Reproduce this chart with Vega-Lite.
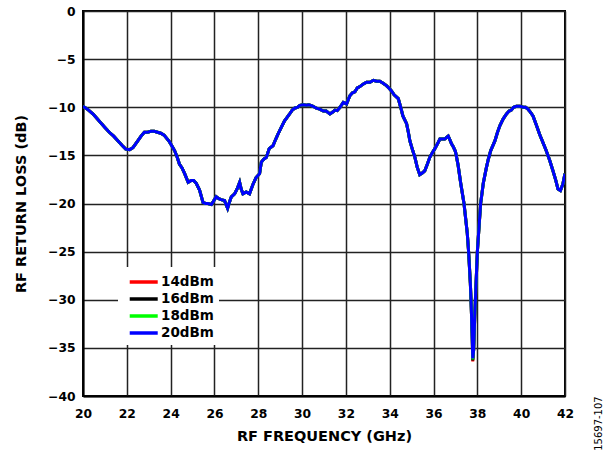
{
  "$schema": "https://vega.github.io/schema/vega-lite/v6.json",
  "width": 482,
  "height": 385,
  "autosize": {"type": "none"},
  "padding": {"left": 83, "top": 11, "right": 43, "bottom": 54},
  "background": "white",
  "config": {
    "font": "DejaVu Sans",
    "view": {"stroke": "black", "strokeWidth": 2},
    "axis": {
      "labelFont": "DejaVu Sans",
      "labelFontSize": 12.3,
      "labelFontWeight": "bold",
      "labelColor": "black",
      "titleFont": "DejaVu Sans",
      "titleFontSize": 14.5,
      "titleFontWeight": "bold",
      "titleColor": "black",
      "ticks": false,
      "domainColor": "black",
      "domainWidth": 2,
      "gridColor": "#222222",
      "gridWidth": 1.5,
      "gridOpacity": 1
    }
  },
  "title": {
    "text": "15697-107",
    "orient": "right",
    "anchor": "end",
    "frame": "bounds",
    "angle": -90,
    "align": "left",
    "dx": -8,
    "fontSize": 10,
    "fontWeight": "normal",
    "font": "DejaVu Sans",
    "color": "black",
    "offset": 10
  },
  "data": {
    "values": [
      {"f": 20.0, "14dBm": -9.9, "16dBm": -9.9, "18dBm": -9.9, "20dBm": -9.9},
      {"f": 20.2, "14dBm": -10.2, "16dBm": -10.2, "18dBm": -10.2, "20dBm": -10.2},
      {"f": 20.46, "14dBm": -10.7, "16dBm": -10.7, "18dBm": -10.7, "20dBm": -10.7},
      {"f": 20.65, "14dBm": -11.2, "16dBm": -11.2, "18dBm": -11.2, "20dBm": -11.2},
      {"f": 20.84, "14dBm": -11.7, "16dBm": -11.7, "18dBm": -11.7, "20dBm": -11.7},
      {"f": 21.0, "14dBm": -12.1, "16dBm": -12.1, "18dBm": -12.1, "20dBm": -12.1},
      {"f": 21.2, "14dBm": -12.6, "16dBm": -12.6, "18dBm": -12.6, "20dBm": -12.6},
      {"f": 21.4, "14dBm": -13.0, "16dBm": -13.0, "18dBm": -13.0, "20dBm": -13.0},
      {"f": 21.6, "14dBm": -13.5, "16dBm": -13.5, "18dBm": -13.5, "20dBm": -13.5},
      {"f": 21.8, "14dBm": -14.0, "16dBm": -14.0, "18dBm": -14.0, "20dBm": -14.0},
      {"f": 21.95, "14dBm": -14.35, "16dBm": -14.35, "18dBm": -14.35, "20dBm": -14.35},
      {"f": 22.13, "14dBm": -14.4, "16dBm": -14.4, "18dBm": -14.4, "20dBm": -14.4},
      {"f": 22.28, "14dBm": -14.2, "16dBm": -14.2, "18dBm": -14.2, "20dBm": -14.2},
      {"f": 22.5, "14dBm": -13.5, "16dBm": -13.5, "18dBm": -13.5, "20dBm": -13.5},
      {"f": 22.65, "14dBm": -13.0, "16dBm": -13.0, "18dBm": -13.0, "20dBm": -13.0},
      {"f": 22.8, "14dBm": -12.6, "16dBm": -12.6, "18dBm": -12.6, "20dBm": -12.6},
      {"f": 22.95, "14dBm": -12.6, "16dBm": -12.6, "18dBm": -12.6, "20dBm": -12.6},
      {"f": 23.1, "14dBm": -12.5, "16dBm": -12.5, "18dBm": -12.5, "20dBm": -12.5},
      {"f": 23.25, "14dBm": -12.5, "16dBm": -12.5, "18dBm": -12.5, "20dBm": -12.5},
      {"f": 23.4, "14dBm": -12.6, "16dBm": -12.6, "18dBm": -12.6, "20dBm": -12.6},
      {"f": 23.55, "14dBm": -12.7, "16dBm": -12.7, "18dBm": -12.7, "20dBm": -12.7},
      {"f": 23.7, "14dBm": -12.9, "16dBm": -12.9, "18dBm": -12.9, "20dBm": -12.9},
      {"f": 23.95, "14dBm": -13.6, "16dBm": -13.6, "18dBm": -13.6, "20dBm": -13.6},
      {"f": 24.18, "14dBm": -14.5, "16dBm": -14.5, "18dBm": -14.5, "20dBm": -14.5},
      {"f": 24.3, "14dBm": -15.2, "16dBm": -15.2, "18dBm": -15.2, "20dBm": -15.2},
      {"f": 24.4, "14dBm": -15.9, "16dBm": -15.9, "18dBm": -15.9, "20dBm": -15.9},
      {"f": 24.52, "14dBm": -16.3, "16dBm": -16.3, "18dBm": -16.3, "20dBm": -16.3},
      {"f": 24.64, "14dBm": -16.9, "16dBm": -16.9, "18dBm": -16.9, "20dBm": -16.9},
      {"f": 24.8, "14dBm": -17.8, "16dBm": -17.8, "18dBm": -17.8, "20dBm": -17.8},
      {"f": 24.94, "14dBm": -17.6, "16dBm": -17.6, "18dBm": -17.6, "20dBm": -17.6},
      {"f": 25.05, "14dBm": -17.6, "16dBm": -17.6, "18dBm": -17.6, "20dBm": -17.6},
      {"f": 25.17, "14dBm": -17.9, "16dBm": -17.9, "18dBm": -17.9, "20dBm": -17.9},
      {"f": 25.32, "14dBm": -18.6, "16dBm": -18.6, "18dBm": -18.6, "20dBm": -18.6},
      {"f": 25.48, "14dBm": -19.9, "16dBm": -19.9, "18dBm": -19.9, "20dBm": -19.9},
      {"f": 25.6, "14dBm": -20.0, "16dBm": -20.0, "18dBm": -20.0, "20dBm": -20.0},
      {"f": 25.7, "14dBm": -20.0, "16dBm": -20.0, "18dBm": -20.0, "20dBm": -20.0},
      {"f": 25.86, "14dBm": -20.1, "16dBm": -20.1, "18dBm": -20.1, "20dBm": -20.1},
      {"f": 26.0, "14dBm": -19.6, "16dBm": -19.6, "18dBm": -19.6, "20dBm": -19.6},
      {"f": 26.08, "14dBm": -19.3, "16dBm": -19.3, "18dBm": -19.3, "20dBm": -19.3},
      {"f": 26.2, "14dBm": -19.5, "16dBm": -19.5, "18dBm": -19.5, "20dBm": -19.5},
      {"f": 26.3, "14dBm": -19.6, "16dBm": -19.6, "18dBm": -19.6, "20dBm": -19.6},
      {"f": 26.46, "14dBm": -19.7, "16dBm": -19.7, "18dBm": -19.7, "20dBm": -19.7},
      {"f": 26.6, "14dBm": -20.5, "16dBm": -20.5, "18dBm": -20.5, "20dBm": -20.5},
      {"f": 26.68, "14dBm": -19.9, "16dBm": -19.9, "18dBm": -19.9, "20dBm": -19.9},
      {"f": 26.77, "14dBm": -19.3, "16dBm": -19.3, "18dBm": -19.3, "20dBm": -19.3},
      {"f": 26.92, "14dBm": -19.0, "16dBm": -19.0, "18dBm": -19.0, "20dBm": -19.0},
      {"f": 27.05, "14dBm": -18.4, "16dBm": -18.4, "18dBm": -18.4, "20dBm": -18.4},
      {"f": 27.15, "14dBm": -17.8, "16dBm": -17.8, "18dBm": -17.8, "20dBm": -17.8},
      {"f": 27.22, "14dBm": -18.5, "16dBm": -18.5, "18dBm": -18.5, "20dBm": -18.5},
      {"f": 27.3, "14dBm": -19.0, "16dBm": -19.0, "18dBm": -19.0, "20dBm": -19.0},
      {"f": 27.45, "14dBm": -18.8, "16dBm": -18.8, "18dBm": -18.8, "20dBm": -18.8},
      {"f": 27.6, "14dBm": -19.0, "16dBm": -19.0, "18dBm": -19.0, "20dBm": -19.0},
      {"f": 27.76, "14dBm": -18.0, "16dBm": -18.0, "18dBm": -18.0, "20dBm": -18.0},
      {"f": 27.9, "14dBm": -17.3, "16dBm": -17.3, "18dBm": -17.3, "20dBm": -17.3},
      {"f": 28.06, "14dBm": -16.9, "16dBm": -16.9, "18dBm": -16.9, "20dBm": -16.9},
      {"f": 28.14, "14dBm": -15.7, "16dBm": -15.7, "18dBm": -15.7, "20dBm": -15.7},
      {"f": 28.25, "14dBm": -15.4, "16dBm": -15.4, "18dBm": -15.4, "20dBm": -15.4},
      {"f": 28.37, "14dBm": -15.2, "16dBm": -15.2, "18dBm": -15.2, "20dBm": -15.2},
      {"f": 28.5, "14dBm": -14.3, "16dBm": -14.3, "18dBm": -14.3, "20dBm": -14.3},
      {"f": 28.67, "14dBm": -14.0, "16dBm": -14.0, "18dBm": -14.0, "20dBm": -14.0},
      {"f": 28.8, "14dBm": -13.3, "16dBm": -13.3, "18dBm": -13.3, "20dBm": -13.3},
      {"f": 28.9, "14dBm": -12.8, "16dBm": -12.8, "18dBm": -12.8, "20dBm": -12.8},
      {"f": 29.05, "14dBm": -12.1, "16dBm": -12.1, "18dBm": -12.1, "20dBm": -12.1},
      {"f": 29.2, "14dBm": -11.4, "16dBm": -11.4, "18dBm": -11.4, "20dBm": -11.4},
      {"f": 29.3, "14dBm": -11.1, "16dBm": -11.1, "18dBm": -11.1, "20dBm": -11.1},
      {"f": 29.43, "14dBm": -10.7, "16dBm": -10.7, "18dBm": -10.7, "20dBm": -10.7},
      {"f": 29.55, "14dBm": -10.3, "16dBm": -10.3, "18dBm": -10.3, "20dBm": -10.3},
      {"f": 29.66, "14dBm": -10.1, "16dBm": -10.1, "18dBm": -10.1, "20dBm": -10.1},
      {"f": 29.8, "14dBm": -10.0, "16dBm": -10.0, "18dBm": -10.0, "20dBm": -10.0},
      {"f": 29.9, "14dBm": -9.8, "16dBm": -9.8, "18dBm": -9.8, "20dBm": -9.8},
      {"f": 30.05, "14dBm": -9.75, "16dBm": -9.75, "18dBm": -9.75, "20dBm": -9.75},
      {"f": 30.2, "14dBm": -9.8, "16dBm": -9.8, "18dBm": -9.8, "20dBm": -9.8},
      {"f": 30.3, "14dBm": -9.75, "16dBm": -9.75, "18dBm": -9.75, "20dBm": -9.75},
      {"f": 30.4, "14dBm": -9.8, "16dBm": -9.8, "18dBm": -9.8, "20dBm": -9.8},
      {"f": 30.5, "14dBm": -9.9, "16dBm": -9.9, "18dBm": -9.9, "20dBm": -9.9},
      {"f": 30.65, "14dBm": -10.1, "16dBm": -10.1, "18dBm": -10.1, "20dBm": -10.1},
      {"f": 30.8, "14dBm": -10.2, "16dBm": -10.2, "18dBm": -10.2, "20dBm": -10.2},
      {"f": 30.97, "14dBm": -10.4, "16dBm": -10.4, "18dBm": -10.4, "20dBm": -10.4},
      {"f": 31.1, "14dBm": -10.4, "16dBm": -10.4, "18dBm": -10.4, "20dBm": -10.4},
      {"f": 31.27, "14dBm": -10.7, "16dBm": -10.7, "18dBm": -10.7, "20dBm": -10.7},
      {"f": 31.4, "14dBm": -10.5, "16dBm": -10.5, "18dBm": -10.5, "20dBm": -10.5},
      {"f": 31.5, "14dBm": -10.3, "16dBm": -10.3, "18dBm": -10.3, "20dBm": -10.3},
      {"f": 31.6, "14dBm": -10.35, "16dBm": -10.35, "18dBm": -10.35, "20dBm": -10.35},
      {"f": 31.73, "14dBm": -10.0, "16dBm": -10.0, "18dBm": -10.0, "20dBm": -10.0},
      {"f": 31.88, "14dBm": -9.5, "16dBm": -9.5, "18dBm": -9.5, "20dBm": -9.5},
      {"f": 32.03, "14dBm": -9.65, "16dBm": -9.65, "18dBm": -9.65, "20dBm": -9.65},
      {"f": 32.18, "14dBm": -8.8, "16dBm": -8.8, "18dBm": -8.8, "20dBm": -8.8},
      {"f": 32.3, "14dBm": -8.5, "16dBm": -8.5, "18dBm": -8.5, "20dBm": -8.5},
      {"f": 32.41, "14dBm": -8.4, "16dBm": -8.4, "18dBm": -8.4, "20dBm": -8.4},
      {"f": 32.52, "14dBm": -8.0, "16dBm": -8.0, "18dBm": -8.0, "20dBm": -8.0},
      {"f": 32.64, "14dBm": -7.85, "16dBm": -7.85, "18dBm": -7.85, "20dBm": -7.85},
      {"f": 32.78, "14dBm": -7.6, "16dBm": -7.6, "18dBm": -7.6, "20dBm": -7.6},
      {"f": 32.94, "14dBm": -7.4, "16dBm": -7.4, "18dBm": -7.4, "20dBm": -7.4},
      {"f": 33.1, "14dBm": -7.4, "16dBm": -7.4, "18dBm": -7.4, "20dBm": -7.4},
      {"f": 33.25, "14dBm": -7.2, "16dBm": -7.2, "18dBm": -7.2, "20dBm": -7.2},
      {"f": 33.4, "14dBm": -7.3, "16dBm": -7.3, "18dBm": -7.3, "20dBm": -7.3},
      {"f": 33.55, "14dBm": -7.3, "16dBm": -7.3, "18dBm": -7.3, "20dBm": -7.3},
      {"f": 33.7, "14dBm": -7.5, "16dBm": -7.5, "18dBm": -7.5, "20dBm": -7.5},
      {"f": 33.85, "14dBm": -7.75, "16dBm": -7.75, "18dBm": -7.75, "20dBm": -7.75},
      {"f": 33.96, "14dBm": -8.0, "16dBm": -8.0, "18dBm": -8.0, "20dBm": -8.0},
      {"f": 34.08, "14dBm": -8.3, "16dBm": -8.3, "18dBm": -8.3, "20dBm": -8.3},
      {"f": 34.2, "14dBm": -8.7, "16dBm": -8.7, "18dBm": -8.7, "20dBm": -8.7},
      {"f": 34.39, "14dBm": -9.1, "16dBm": -9.1, "18dBm": -9.1, "20dBm": -9.1},
      {"f": 34.5, "14dBm": -10.0, "16dBm": -10.0, "18dBm": -10.0, "20dBm": -10.0},
      {"f": 34.6, "14dBm": -10.9, "16dBm": -10.9, "18dBm": -10.9, "20dBm": -10.9},
      {"f": 34.77, "14dBm": -11.7, "16dBm": -11.7, "18dBm": -11.7, "20dBm": -11.7},
      {"f": 34.85, "14dBm": -12.6, "16dBm": -12.6, "18dBm": -12.6, "20dBm": -12.6},
      {"f": 34.92, "14dBm": -13.5, "16dBm": -13.5, "18dBm": -13.5, "20dBm": -13.5},
      {"f": 35.05, "14dBm": -14.5, "16dBm": -14.5, "18dBm": -14.5, "20dBm": -14.5},
      {"f": 35.15, "14dBm": -15.2, "16dBm": -15.2, "18dBm": -15.2, "20dBm": -15.2},
      {"f": 35.25, "14dBm": -16.2, "16dBm": -16.2, "18dBm": -16.2, "20dBm": -16.2},
      {"f": 35.37, "14dBm": -17.0, "16dBm": -17.0, "18dBm": -17.0, "20dBm": -17.0},
      {"f": 35.5, "14dBm": -16.8, "16dBm": -16.8, "18dBm": -16.8, "20dBm": -16.8},
      {"f": 35.6, "14dBm": -16.6, "16dBm": -16.6, "18dBm": -16.6, "20dBm": -16.6},
      {"f": 35.72, "14dBm": -15.9, "16dBm": -15.9, "18dBm": -15.9, "20dBm": -15.9},
      {"f": 35.83, "14dBm": -15.2, "16dBm": -15.2, "18dBm": -15.2, "20dBm": -15.2},
      {"f": 35.95, "14dBm": -14.7, "16dBm": -14.7, "18dBm": -14.7, "20dBm": -14.7},
      {"f": 36.06, "14dBm": -14.3, "16dBm": -14.3, "18dBm": -14.3, "20dBm": -14.3},
      {"f": 36.18, "14dBm": -13.8, "16dBm": -13.8, "18dBm": -13.8, "20dBm": -13.8},
      {"f": 36.29, "14dBm": -13.3, "16dBm": -13.3, "18dBm": -13.3, "20dBm": -13.3},
      {"f": 36.4, "14dBm": -13.3, "16dBm": -13.3, "18dBm": -13.3, "20dBm": -13.3},
      {"f": 36.51, "14dBm": -13.3, "16dBm": -13.3, "18dBm": -13.3, "20dBm": -13.3},
      {"f": 36.67, "14dBm": -13.0, "16dBm": -13.0, "18dBm": -13.0, "20dBm": -13.0},
      {"f": 36.75, "14dBm": -13.4, "16dBm": -13.4, "18dBm": -13.4, "20dBm": -13.4},
      {"f": 36.82, "14dBm": -13.8, "16dBm": -13.8, "18dBm": -13.8, "20dBm": -13.8},
      {"f": 36.9, "14dBm": -14.1, "16dBm": -14.1, "18dBm": -14.1, "20dBm": -14.1},
      {"f": 37.0, "14dBm": -14.6, "16dBm": -14.6, "18dBm": -14.6, "20dBm": -14.6},
      {"f": 37.12, "14dBm": -16.0, "16dBm": -16.0, "18dBm": -16.0, "20dBm": -16.0},
      {"f": 37.24, "14dBm": -17.9, "16dBm": -17.9, "18dBm": -17.9, "20dBm": -17.9},
      {"f": 37.39, "14dBm": -20.0, "16dBm": -20.0, "18dBm": -20.0, "20dBm": -20.0},
      {"f": 37.54, "14dBm": -23.1, "16dBm": -23.1, "18dBm": -23.1, "20dBm": -23.1},
      {"f": 37.6, "14dBm": -25.0, "16dBm": -25.0, "18dBm": -25.0, "20dBm": -25.0},
      {"f": 37.68, "14dBm": -28.3, "16dBm": -28.3, "18dBm": -28.3, "20dBm": -28.3},
      {"f": 37.71, "14dBm": -30.0, "16dBm": -30.0, "18dBm": -30.0, "20dBm": -30.0},
      {"f": 37.76, "14dBm": -33.5, "16dBm": -33.5, "18dBm": -33.5, "20dBm": -33.5},
      {"f": 37.79, "14dBm": -36.4, "16dBm": -36.3, "18dBm": -36.2, "20dBm": -36.1},
      {"f": 37.83, "14dBm": -35.2, "16dBm": -35.2, "18dBm": -35.2, "20dBm": -35.2},
      {"f": 37.88, "14dBm": -31.8, "16dBm": -31.8, "18dBm": -31.8, "20dBm": -31.8},
      {"f": 37.91, "14dBm": -30.0, "16dBm": -30.0, "18dBm": -30.0, "20dBm": -30.0},
      {"f": 38.0, "14dBm": -25.0, "16dBm": -25.0, "18dBm": -25.0, "20dBm": -25.0},
      {"f": 38.08, "14dBm": -22.3, "16dBm": -22.3, "18dBm": -22.3, "20dBm": -22.3},
      {"f": 38.15, "14dBm": -20.0, "16dBm": -20.0, "18dBm": -20.0, "20dBm": -20.0},
      {"f": 38.27, "14dBm": -17.9, "16dBm": -17.9, "18dBm": -17.9, "20dBm": -17.9},
      {"f": 38.4, "14dBm": -16.4, "16dBm": -16.4, "18dBm": -16.4, "20dBm": -16.4},
      {"f": 38.5, "14dBm": -15.4, "16dBm": -15.4, "18dBm": -15.4, "20dBm": -15.4},
      {"f": 38.61, "14dBm": -14.5, "16dBm": -14.5, "18dBm": -14.5, "20dBm": -14.5},
      {"f": 38.8, "14dBm": -13.5, "16dBm": -13.5, "18dBm": -13.5, "20dBm": -13.5},
      {"f": 38.92, "14dBm": -12.6, "16dBm": -12.6, "18dBm": -12.6, "20dBm": -12.6},
      {"f": 39.03, "14dBm": -11.9, "16dBm": -11.9, "18dBm": -11.9, "20dBm": -11.9},
      {"f": 39.18, "14dBm": -11.2, "16dBm": -11.2, "18dBm": -11.2, "20dBm": -11.2},
      {"f": 39.33, "14dBm": -10.7, "16dBm": -10.7, "18dBm": -10.7, "20dBm": -10.7},
      {"f": 39.45, "14dBm": -10.4, "16dBm": -10.4, "18dBm": -10.4, "20dBm": -10.4},
      {"f": 39.55, "14dBm": -10.3, "16dBm": -10.3, "18dBm": -10.3, "20dBm": -10.3},
      {"f": 39.65, "14dBm": -10.0, "16dBm": -10.0, "18dBm": -10.0, "20dBm": -10.0},
      {"f": 39.78, "14dBm": -9.9, "16dBm": -9.9, "18dBm": -9.9, "20dBm": -9.9},
      {"f": 39.95, "14dBm": -9.9, "16dBm": -9.9, "18dBm": -9.9, "20dBm": -9.9},
      {"f": 40.09, "14dBm": -10.0, "16dBm": -10.0, "18dBm": -10.0, "20dBm": -10.0},
      {"f": 40.2, "14dBm": -10.0, "16dBm": -10.0, "18dBm": -10.0, "20dBm": -10.0},
      {"f": 40.31, "14dBm": -10.2, "16dBm": -10.2, "18dBm": -10.2, "20dBm": -10.2},
      {"f": 40.42, "14dBm": -10.5, "16dBm": -10.5, "18dBm": -10.5, "20dBm": -10.5},
      {"f": 40.54, "14dBm": -10.9, "16dBm": -10.9, "18dBm": -10.9, "20dBm": -10.9},
      {"f": 40.7, "14dBm": -11.9, "16dBm": -11.9, "18dBm": -11.9, "20dBm": -11.9},
      {"f": 40.84, "14dBm": -12.8, "16dBm": -12.8, "18dBm": -12.8, "20dBm": -12.8},
      {"f": 41.0, "14dBm": -13.7, "16dBm": -13.7, "18dBm": -13.7, "20dBm": -13.7},
      {"f": 41.14, "14dBm": -14.5, "16dBm": -14.5, "18dBm": -14.5, "20dBm": -14.5},
      {"f": 41.3, "14dBm": -15.5, "16dBm": -15.5, "18dBm": -15.5, "20dBm": -15.5},
      {"f": 41.45, "14dBm": -16.6, "16dBm": -16.6, "18dBm": -16.6, "20dBm": -16.6},
      {"f": 41.58, "14dBm": -17.6, "16dBm": -17.6, "18dBm": -17.6, "20dBm": -17.6},
      {"f": 41.68, "14dBm": -18.5, "16dBm": -18.5, "18dBm": -18.5, "20dBm": -18.5},
      {"f": 41.79, "14dBm": -18.65, "16dBm": -18.65, "18dBm": -18.65, "20dBm": -18.65},
      {"f": 41.9, "14dBm": -18.0, "16dBm": -18.0, "18dBm": -18.0, "20dBm": -18.0},
      {"f": 42.0, "14dBm": -16.9, "16dBm": -16.9, "18dBm": -16.9, "20dBm": -16.9}
    ]
  },
  "transform": [
    {"fold": ["14dBm", "16dBm", "18dBm", "20dBm"], "as": ["series", "rl"]}
  ],
  "mark": {"type": "line", "strokeWidth": 3, "clip": true},
  "encoding": {
    "x": {
      "field": "f",
      "type": "quantitative",
      "scale": {"domain": [20, 42], "nice": false, "zero": false},
      "axis": {
        "title": "RF FREQUENCY (GHz)",
        "values": [20, 22, 24, 26, 28, 30, 32, 34, 36, 38, 40, 42],
        "labelPadding": 11,
        "titlePadding": 10,
        "labelFlush": false
      }
    },
    "y": {
      "field": "rl",
      "type": "quantitative",
      "scale": {"domain": [-40, 0], "nice": false},
      "axis": {
        "title": "RF RETURN LOSS (dB)",
        "values": [-40, -35, -30, -25, -20, -15, -10, -5, 0],
        "labelPadding": 8,
        "titlePadding": 19,
        "labelFlush": false
      }
    },
    "color": {
      "field": "series",
      "type": "nominal",
      "scale": {
        "domain": ["14dBm", "16dBm", "18dBm", "20dBm"],
        "range": ["#ff0000", "#000000", "#00ff00", "#0000ff"]
      },
      "legend": {
        "title": null,
        "orient": "none",
        "legendX": 35,
        "legendY": 256,
        "fillColor": "white",
        "padding": 5,
        "symbolType": "M-0.41,0H3.09",
        "symbolSize": 256,
        "symbolStrokeWidth": 3.5,
        "rowPadding": 0,
        "labelFont": "DejaVu Sans",
        "labelFontSize": 13.5,
        "labelFontWeight": "bold",
        "labelColor": "black",
        "labelOffset": 18
      }
    }
  }
}
